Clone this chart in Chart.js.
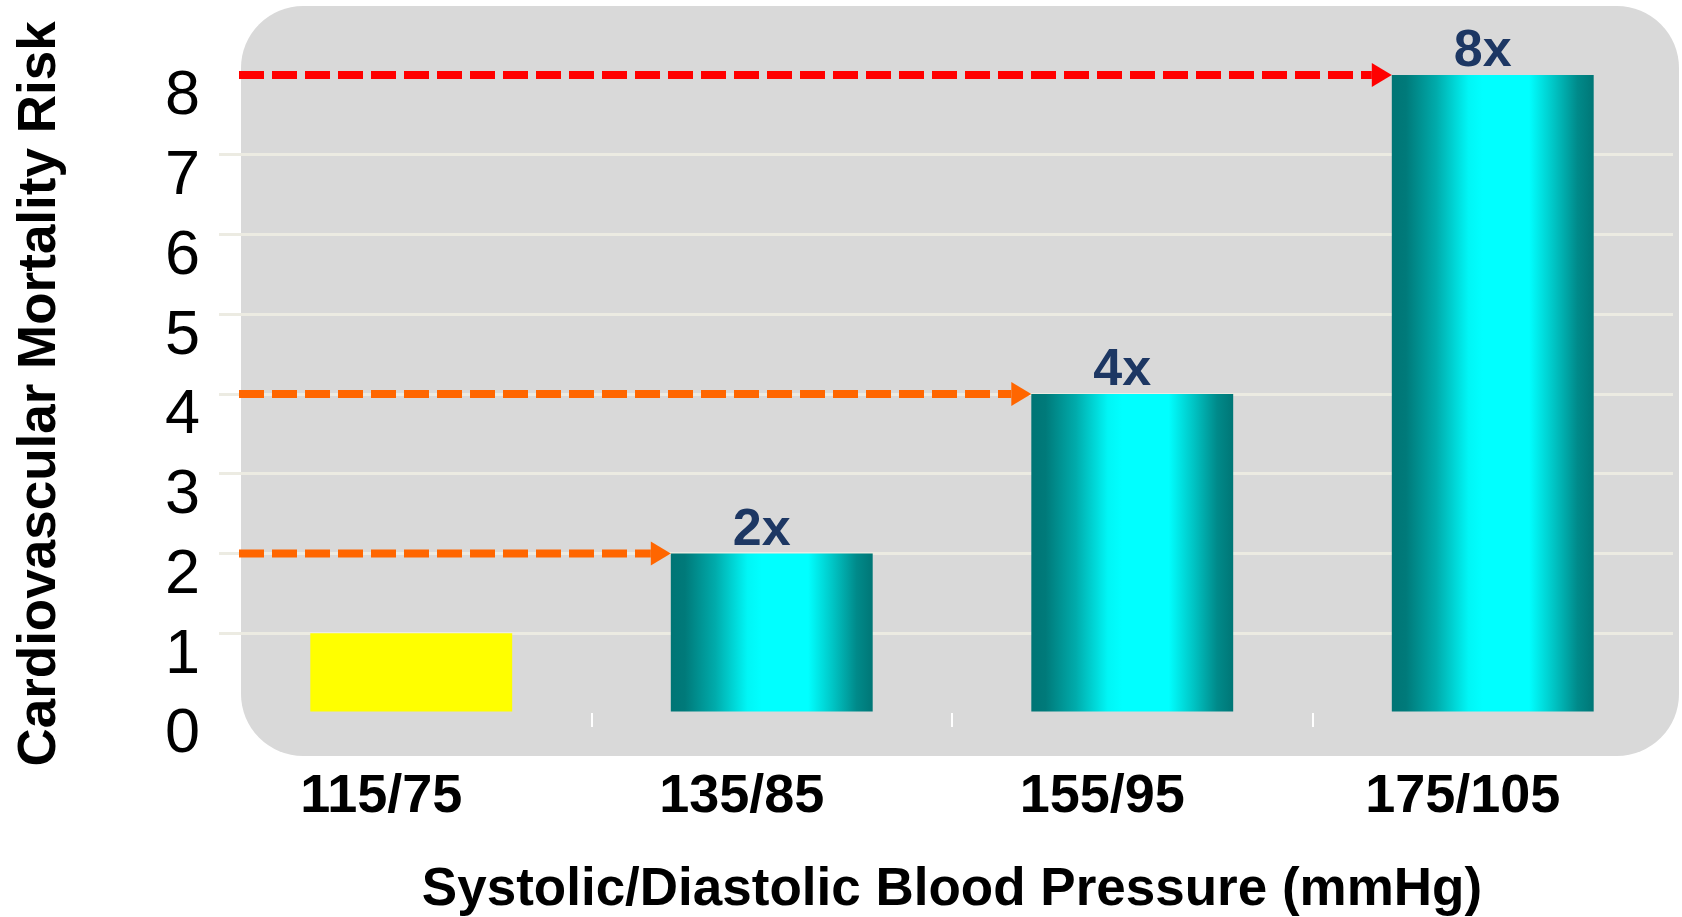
<!DOCTYPE html>
<html>
<head>
<meta charset="utf-8">
<style>
  html, body { margin: 0; padding: 0; background: #ffffff; }
  #wrap { width: 1682px; height: 917px; }
</style>
<script src="https://cdn.jsdelivr.net/npm/chart.js@4.4.1/dist/chart.umd.min.js"></script>
</head>
<body>
<div id="wrap"><canvas id="riskChart" width="1682" height="917"></canvas></div>
<script>
// Blood pressure groups and relative cardiovascular mortality risk
const pressureCategories = ['115/75', '135/85', '155/95', '175/105'];
const relativeRisk = [1, 2, 4, 8];
const riskTicks = [0, 1, 2, 3, 4, 5, 6, 7, 8];
// Which bars carry a "Nx" multiplier label, and the colour of the arrow pointing at them
const multiplierShown = [false, true, true, true];
const arrowColors = [null, '#ff6600', '#ff6600', '#ff0000'];

const FONT = '"Liberation Sans", Arial, Helvetica, sans-serif';
const BAR_PCT = 0.56;

// Cylinder-like horizontal shading for the teal bars
function barFill(ctx) {
  if (ctx.dataIndex === 0) return '#ffff00';
  const chart = ctx.chart;
  const xs = chart.scales && chart.scales.x;
  if (!xs || !chart.chartArea) return '#00cccc';
  const center = xs.getPixelForValue(ctx.dataIndex);
  const w = xs.width / pressureCategories.length * BAR_PCT;
  const g = chart.ctx.createLinearGradient(center - w / 2, 0, center + w / 2, 0);
  g.addColorStop(0.00, '#007575');
  g.addColorStop(0.07, '#007a7a');
  g.addColorStop(0.22, '#00abab');
  g.addColorStop(0.38, '#00f6f6');
  g.addColorStop(0.45, '#00ffff');
  g.addColorStop(0.68, '#00ffff');
  g.addColorStop(0.80, '#00c6c6');
  g.addColorStop(0.92, '#008a8a');
  g.addColorStop(1.00, '#007676');
  return g;
}

// Rounded grey panel behind the plot
const panelPlugin = {
  id: 'panel',
  beforeDraw(chart) {
    const { ctx, chartArea: a } = chart;
    const left = a.left + 10, top = 6, right = chart.width - 3, bottom = a.bottom + 43;
    ctx.save();
    ctx.fillStyle = '#d9d9d9';
    ctx.beginPath();
    ctx.roundRect(left, top, right - left, bottom - top, 62);
    ctx.fill();
    ctx.restore();
  }
};

// Dashed arrows from the axis to each elevated bar, plus the "Nx" labels
const annotatePlugin = {
  id: 'annotate',
  afterDatasetsDraw(chart) {
    const { ctx, chartArea: a } = chart;
    const ys = chart.scales.y;
    const meta = chart.getDatasetMeta(0);
    ctx.save();
    relativeRisk.forEach((v, i) => {
      const bar = meta.data[i];
      const { x, width } = bar.getProps(['x', 'width'], true);
      const y = ys.getPixelForValue(v);
      const tip = x - width / 2;
      const color = arrowColors[i];
      if (color) {
        const head = 20;
        ctx.strokeStyle = color;
        ctx.fillStyle = color;
        ctx.lineWidth = 8;
        ctx.lineCap = 'butt';
        ctx.setLineDash([25, 8]);
        ctx.beginPath();
        ctx.moveTo(a.left + 8, y);
        ctx.lineTo(tip - head, y);
        ctx.stroke();
        ctx.setLineDash([]);
        ctx.beginPath();
        ctx.moveTo(tip, y);
        ctx.lineTo(tip - head, y - 12);
        ctx.lineTo(tip - head, y + 12);
        ctx.closePath();
        ctx.fill();
      }
      if (multiplierShown[i]) {
        ctx.fillStyle = '#1d3763';
        ctx.font = 'bold 52px ' + FONT;
        ctx.textAlign = 'center';
        ctx.textBaseline = 'alphabetic';
        ctx.fillText(v + 'x', x - 10, y - 9);
      }
    });
    ctx.restore();
  }
};

new Chart(document.getElementById('riskChart'), {
  type: 'bar',
  data: {
    labels: pressureCategories,
    datasets: [{
      data: relativeRisk,
      backgroundColor: barFill,
      borderWidth: 0,
      barPercentage: BAR_PCT,
      categoryPercentage: 1
    }]
  },
  options: {
    responsive: false,
    devicePixelRatio: 1,
    animation: false,
    layout: { padding: { top: 75, right: 9, bottom: 0, left: 0 } },
    plugins: { legend: { display: false }, tooltip: { enabled: false } },
    scales: {
      x: {
        offset: true,
        border: { display: false },
        grid: {
          offset: true,
          drawOnChartArea: false,
          drawTicks: true,
          tickLength: 14,
          lineWidth: 2,
          color: (c) => (c.index === undefined || c.index === 0) ? 'rgba(0,0,0,0)' : '#ffffff'
        },
        ticks: {
          color: '#000000',
          font: { family: FONT, size: 54, weight: 'bold' },
          padding: 38,
          labelOffset: -30,
          maxRotation: 0
        },
        title: {
          display: true,
          text: 'Systolic/Diastolic Blood Pressure (mmHg)',
          color: '#000000',
          font: { family: FONT, size: 53, weight: 'bold' },
          padding: { top: 0, bottom: -5 }
        },
        afterFit: (s) => { s.height = 204; }
      },
      y: {
        min: 0,
        max: 8,
        border: { display: false },
        afterBuildTicks: (s) => { s.ticks = riskTicks.map(v => ({ value: v })); },
        grid: {
          drawTicks: true,
          tickLength: 12,
          lineWidth: 3,
          color: (c) => (c.tick && (c.tick.value === 0 || c.tick.value === 8)) ? 'rgba(0,0,0,0)' : '#ecebe2'
        },
        ticks: {
          color: '#000000',
          font: { family: FONT, size: 63 },
          padding: 19,
          labelOffset: 22
        },
        title: {
          display: true,
          text: 'Cardiovascular Mortality Risk',
          color: '#000000',
          font: { family: FONT, size: 53, weight: 'bold' },
          padding: { top: 9, bottom: 0 }
        },
        afterFit: (s) => { s.width = 231; }
      }
    }
  },
  plugins: [panelPlugin, annotatePlugin]
});
</script>
</body>
</html>
